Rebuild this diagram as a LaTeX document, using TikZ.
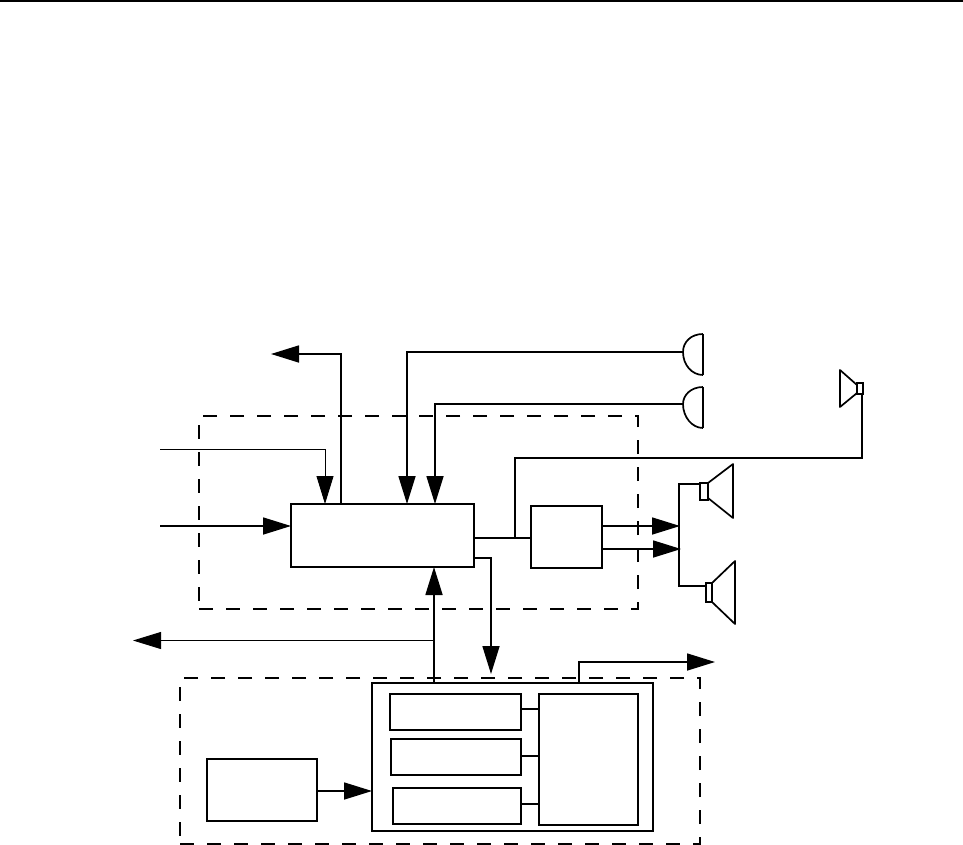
\documentclass[tikz,border=0pt]{standalone}
\usetikzlibrary{arrows.meta}
\tikzset{
  x=1pt,y=-1pt,
  ln/.style={line width=1.7pt,line join=miter,line cap=butt},
  thinln/.style={line width=0.9pt},
  arr/.style={-{Triangle[length=28pt,width=17pt]}},
  boxst/.style={draw,line width=1.7pt,inner sep=0pt,outer sep=0pt,fill=white},
  dashbox/.style={draw,line width=1.7pt,inner sep=0pt,outer sep=0pt,dash pattern=on 14pt off 13pt},
}
\newcommand{\bxnode}[6][boxst]{\node[#1,minimum width={#5-#3},minimum height={#6-#4}] (#2) at ({(#3+#5)/2},{(#4+#6)/2}) {};}
\begin{document}
\begin{tikzpicture}
\useasboundingbox (0,0) rectangle (963,845);
\fill[white] (0,0) rectangle (963,845);
% top rule
\coordinate (ruleL) at (0,0.8); \coordinate (ruleR) at (963,0.8);
\draw[ln] (ruleL) -- (ruleR);
% dashed groups
\bxnode[dashbox]{groupA}{199}{416}{638}{609}
\bxnode[dashbox]{groupB}{180}{678}{700}{844}
% free coordinates
\coordinate (outTL) at (271,354);
\coordinate (inA) at (160,449.5);
\coordinate (inB) at (160,526);
\coordinate (outL) at (133,640.5);
\coordinate (outR) at (715,662);
\coordinate (busTop) at (679,484);
\coordinate (busBot) at (679,586);
\coordinate (tipA) at (680,526);
\coordinate (tipB) at (681,549);
\coordinate (tipDown) at (491,674);
% boxes
\bxnode{main}{291}{504}{474}{567}
\bxnode{amp}{531}{506}{602}{568}
\bxnode[boxst,line width=1.1pt]{inner}{372}{683}{653}{831}
\bxnode{sa}{390}{694}{521}{730}
\bxnode{sb}{391}{739}{521}{775}
\bxnode{sc}{393}{788}{521}{824}
\bxnode[boxst,line width=1.5pt]{sr}{539}{694}{638}{825}
\bxnode{src}{207}{759}{317}{821}
% speakers and microphones
\bxnode{spkA}{700}{483}{708}{500}
\bxnode{spkB}{706}{583}{712}{602}
\bxnode{spkC}{857}{383}{863}{394}
\draw[ln,line join=round] (708,483) -- (733,464) -- (733,518) -- (708,498);
\draw[ln,line join=round] (712,583) -- (735,561) -- (735,624) -- (712,602);
\draw[ln,line join=round] (857,385) -- (840,370) -- (840,407) -- (857,393);
\coordinate (micA) at (683,352); \coordinate (micB) at (683,404);
\draw[ln] (703,334) .. controls (691,334) and (683,342) .. (micA) .. controls (683,365) and (692,375) .. (703,375);
\draw[ln] (703,334) -- (703,375);
\draw[ln] (703,387) .. controls (691,387) and (683,395) .. (micB) .. controls (683,417) and (692,428) .. (703,428);
\draw[ln] (703,387) -- (703,428);
% connectors
\draw[ln,arr] (main.north -| 341,0) -- (341,354) -- (outTL);
\draw[thinln,arr] (inA) -- (325,449.5) -- (main.north -| 325,0);
\draw[ln,arr] (inB) -- (main.west |- inB);
\draw[ln,arr] (micA) -- (407,352) -- (main.north -| 407,0);
\draw[ln,arr] (micB) -- (435,404) -- (main.north -| 435,0);
\draw[ln,arr] (434,683) -- (main.south -| 434,0);
\draw[thinln,arr] (434,640.5) -- (outL);
\draw[ln] (main.east |- 0,538) -- (amp.west |- 0,538);
\draw[ln] (515,538) -- (515,458) -- (862,458) -- (spkC.south -| 862,0);
\draw[ln,arr] (main.east |- 0,558) -- (491,558) -- (tipDown);
\draw[ln,arr] (amp.east |- tipA) -- (tipA);
\draw[ln,arr] (amp.east |- tipB) -- (tipB);
\draw[ln] (spkA.west |- busTop) -- (busTop) -- (busBot) -- (spkB.west |- busBot);
\draw[ln,arr] (579,683) -- (579,662) -- (outR);
\draw[ln,arr] (src.east |- 0,791) -- (inner.west |- 0,791);
\draw[ln] (sa.east |- 0,709) -- (sr.west |- 0,709);
\draw[ln] (sb.east |- 0,756) -- (sr.west |- 0,756);
\draw[ln] (sc.east |- 0,804) -- (sr.west |- 0,804);
\end{tikzpicture}
\end{document}
